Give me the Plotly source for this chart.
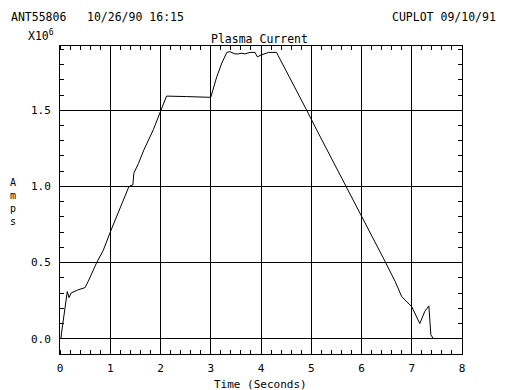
import plotly.graph_objects as go

# Time (s) and plasma current (x10^6 A)
time_s = [0.0, 0.02, 0.03, 0.05, 0.09, 0.13, 0.145, 0.18, 0.22, 0.35, 0.5, 0.56,
          0.73, 0.86, 1.0, 1.36, 1.39, 1.45, 1.47, 1.56, 1.67, 1.86, 2.0, 2.12,
          2.52, 3.0, 3.04, 3.12, 3.22, 3.32, 3.38, 3.48, 3.55, 3.62, 3.68, 3.78,
          3.88, 3.93, 3.98, 4.05, 4.15, 4.31, 4.34, 4.91, 5.11, 6.47, 6.67, 6.80,
          6.90, 7.0, 7.16, 7.26, 7.34, 7.36, 7.38, 7.43]
current_ma = [0.0, 0.005, 0.037, 0.09, 0.20, 0.30, 0.31, 0.27, 0.30, 0.32, 0.336, 0.376,
              0.50, 0.58, 0.70, 0.99, 1.003, 1.01, 1.087, 1.15, 1.24, 1.375, 1.50, 1.593,
              1.59, 1.585, 1.63, 1.72, 1.81, 1.88, 1.885, 1.87, 1.87, 1.875, 1.87, 1.88,
              1.88, 1.85, 1.86, 1.87, 1.88, 1.88, 1.86, 1.50, 1.37, 0.507, 0.376, 0.277,
              0.245, 0.21, 0.10, 0.18, 0.216, 0.125, 0.026, 0.0]

x_ticks = [0, 1, 2, 3, 4, 5, 6, 7, 8]
y_ticks = [0.0, 0.5, 1.0, 1.5]
y_tick_labels = ["0.0", "0.5", "1.0", "1.5"]

FONT = "DejaVu Sans Mono"
OFF = 8  # page body margin
W, H = 512 - OFF, 390 - OFF
# plot area in page pixels
L, R, T, B = 60, 462, 45.5, 354

def px(xp, yp):
    return (xp - L) / (R - L), (B - yp) / (B - T)

fig = go.Figure()
fig.add_trace(go.Scatter(x=time_s, y=current_ma, mode="lines",
                         line=dict(color="black", width=1), hoverinfo="skip"))

axis_common = dict(
    showline=True, linecolor="black", linewidth=1, mirror="allticks",
    showgrid=True, gridcolor="black", gridwidth=1, zeroline=False,
    ticks="", tickfont=dict(family=FONT, size=11, color="black"),
)

fig.update_xaxes(range=[0, 8], tickvals=x_ticks,
                 minor=dict(dtick=0.2, ticks="inside", ticklen=4, tickcolor="black", showgrid=False),
                 ticklabelstandoff=4, **axis_common)
fig.update_yaxes(range=[-0.1, 1.922], tickvals=y_ticks, ticktext=y_tick_labels,
                 minor=dict(dtick=0.1, ticks="inside", ticklen=4, tickcolor="black", showgrid=False),
                 ticklabelstandoff=6, **axis_common)

def ann(text, xp, yp, xanchor="left", yanchor="middle", size=11.5):
    x, y = px(xp, yp)
    fig.add_annotation(text=text, x=x, y=y, xref="paper", yref="paper",
                       xanchor=xanchor, yanchor=yanchor, showarrow=False,
                       font=dict(family=FONT, size=size, color="black"))

ann("ANT55806", 9, 16)
ann("10/26/90 16:15", 85, 16)
ann("CUPLOT 09/10/91", 498, 16, xanchor="right")
ann("X10<sup>6</sup>", 26, 35)
ann("Plasma Current", 259, 48, xanchor="center", yanchor="bottom")
ann("Time (Seconds)", 260, 384.5, xanchor="center", size=11)
ann("A<br>m<br>p<br>s", 13, 202, xanchor="center", size=10)

fig.update_layout(
    width=W, height=H, showlegend=False,
    margin=dict(l=L - OFF, r=512 - R, t=T - OFF, b=390 - B),
    paper_bgcolor="white", plot_bgcolor="white",
)

fig.write_html("out.html")
